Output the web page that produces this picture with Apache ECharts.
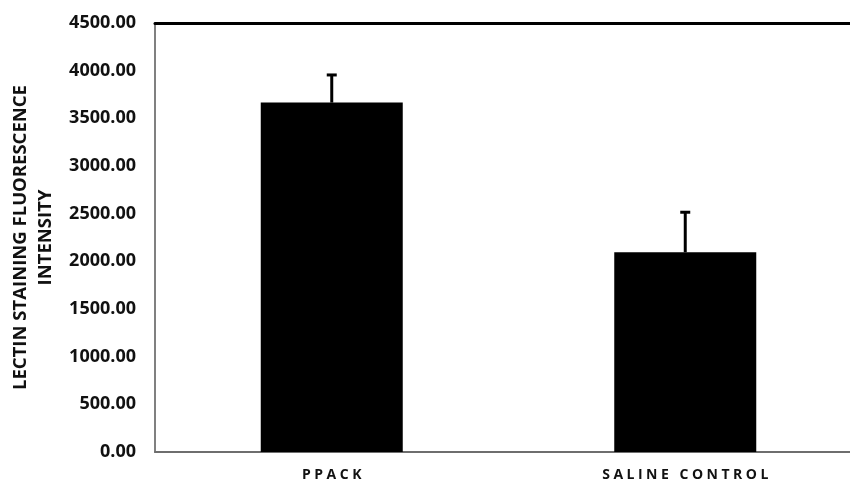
<!DOCTYPE html>
<html>
<head>
<meta charset="utf-8">
<script src="https://cdn.jsdelivr.net/npm/echarts@6/dist/echarts.min.js"></script>
<style>
html,body{margin:0;padding:0;background:#fff;overflow:hidden;width:850px;height:482px;}
#chart{width:870px;height:482px;}
</style>
</head>
<body>
<div id="chart"></div>
<script>
var categories = ['PPACK', 'SALINE CONTROL'];
var means = [3665, 2095];
var errors = [290, 420];
var yTicks = {min: 0, max: 4500, interval: 500};
var yTitle = 'LECTIN STAINING FLUORESCENCE\nINTENSITY';

// letter-spaced category labels (as in the reference)
(function () {
  var proto = CanvasRenderingContext2D.prototype;
  var orig = proto.fillText;
  proto.fillText = function (text, x, y, maxW) {
    if (categories.indexOf(String(text)) >= 0 && 'letterSpacing' in this) {
      var prev = this.letterSpacing;
      this.letterSpacing = '3.5px';
      var shift = (this.textAlign === 'center') ? 1.75 : 0;
      var r = maxW === undefined ? orig.call(this, text, x + shift, y) : orig.call(this, text, x + shift, y, maxW);
      this.letterSpacing = prev;
      return r;
    }
    return maxW === undefined ? orig.call(this, text, x, y) : orig.call(this, text, x, y, maxW);
  };
})();

var chart = echarts.init(document.getElementById('chart'), null, {renderer: 'canvas'});
var font = '"Open Sans", "DejaVu Sans", sans-serif';
var errData = categories.map(function (c, i) { return [i, means[i], means[i] + errors[i]]; });

chart.setOption({
  animation: false,
  backgroundColor: '#ffffff',
  grid: {left: 153, top: 23, width: 709, height: 429, containLabel: false},
  xAxis: [{
    type: 'category',
    data: categories,
    position: 'bottom',
    axisLine: {show: true, lineStyle: {color: '#6e6e6e', width: 2}},
    axisTick: {show: false},
    axisLabel: {color: '#111', fontFamily: font, fontWeight: 'bold', fontSize: 14, margin: 16}
  }, {
    type: 'category',
    data: categories,
    position: 'top',
    axisLine: {show: true, lineStyle: {color: '#000', width: 3}},
    axisTick: {show: false},
    axisLabel: {show: false}
  }],
  yAxis: {
    type: 'value',
    min: yTicks.min, max: yTicks.max, interval: yTicks.interval,
    name: yTitle,
    nameLocation: 'middle',
    nameRotate: 90,
    nameGap: 97,
    nameTextStyle: {color: '#111', fontFamily: font, fontWeight: 'bold', fontSize: 18.5, lineHeight: 25},
    axisLine: {show: true, lineStyle: {color: '#808080', width: 2}},
    axisTick: {show: false},
    splitLine: {show: false},
    axisLabel: {
      color: '#111', fontFamily: font, fontWeight: 'bold', fontSize: 18, margin: 19,
      formatter: function (v) { return v.toFixed(2); }
    }
  },
  series: [{
    type: 'bar',
    data: means,
    barWidth: 142,
    itemStyle: {color: '#000'},
    z: 2
  }, {
    type: 'custom',
    data: errData,
    z: 3,
    renderItem: function (params, api) {
      var x = api.value(0);
      var base = api.coord([x, api.value(1)]);
      var top = api.coord([x, api.value(2)]);
      return {
        type: 'group',
        children: [{
          type: 'line',
          shape: {x1: base[0], y1: base[1], x2: top[0], y2: top[1]},
          style: {stroke: '#000', lineWidth: 3}
        }, {
          type: 'line',
          shape: {x1: top[0] - 5, y1: top[1], x2: top[0] + 5, y2: top[1]},
          style: {stroke: '#000', lineWidth: 3}
        }]
      };
    }
  }]
});
</script>
</body>
</html>
